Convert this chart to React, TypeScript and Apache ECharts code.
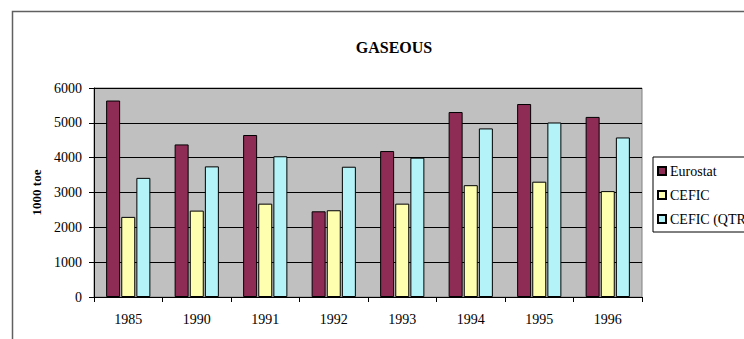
import React, { useEffect, useRef } from "react";
import * as echarts from "echarts";

const categories = ["1985", "1990", "1991", "1992", "1993", "1994", "1995", "1996"];
const eurostat = [5640, 4380, 4650, 2460, 4190, 5310, 5540, 5170];
const cefic = [2300, 2480, 2680, 2490, 2680, 3210, 3310, 3040];
const ceficQtr = [3420, 3750, 4040, 3740, 4000, 4840, 5010, 4580];
const seriesNames = ["Eurostat", "CEFIC", "CEFIC (QTR)"];

const FONT = "'Liberation Serif', 'Times New Roman', serif";

export default function App() {
  const ref = useRef<HTMLDivElement>(null);
  useEffect(() => {
    if (!ref.current) return;
    const chart = echarts.init(ref.current, undefined, { renderer: "svg" });
    const barStyle = (color: string) => ({
      color,
      borderColor: "#000",
      borderWidth: 1,
    });
    chart.setOption({
      animation: false,
      backgroundColor: "#fff",
      textStyle: { fontFamily: FONT },
      title: {
        text: "GASEOUS",
        left: 389,
        textAlign: "center",
        top: 34,
        textStyle: { fontFamily: FONT, fontSize: 16, fontWeight: "bold", color: "#000" },
      },
      graphic: [
        {
          type: "rect",
          shape: { x: 12.5, y: 11.5, width: 800, height: 400 },
          style: { fill: "none", stroke: "#606060", lineWidth: 1.5 },
          silent: true,
          z: -1,
        },
      ],
      legend: {
        orient: "vertical",
        left: 653,
        top: 157,
        width: 120,
        padding: [7, 30, 6, 4],
        itemWidth: 8,
        itemHeight: 8,
        itemGap: 10,
        borderColor: "#000",
        borderWidth: 1,
        backgroundColor: "#fff",
        icon: "rect",
        textStyle: { fontFamily: FONT, fontSize: 14, color: "#000", padding: [0, 0, 0, -1] },
        data: seriesNames,
      },
      grid: {
        left: 94,
        top: 88,
        width: 548,
        height: 209,
        show: true,
        backgroundColor: "#c0c0c0",
        borderColor: "#808080",
        borderWidth: 1,
      },
      xAxis: {
        type: "category",
        data: categories,
        axisLine: { lineStyle: { color: "#000", width: 1 } },
        axisTick: { show: true, length: 5, inside: false, lineStyle: { color: "#000" } },
        axisLabel: { fontFamily: FONT, fontSize: 14, color: "#000", margin: 15 },
      },
      yAxis: {
        type: "value",
        min: 0,
        max: 6000,
        interval: 1000,
        name: "1000 toe",
        nameLocation: "middle",
        nameGap: 50,
        nameRotate: 90,
        nameTextStyle: { fontFamily: FONT, fontSize: 13, fontWeight: "bold", color: "#000" },
        axisLine: { show: true, lineStyle: { color: "#000", width: 1 } },
        axisTick: { show: true, length: 5, lineStyle: { color: "#000" } },
        axisLabel: {
          fontFamily: FONT,
          fontSize: 14,
          color: "#000",
          margin: 12,
          formatter: (v: number) => String(v),
        },
        splitLine: { show: true, lineStyle: { color: "#000", width: 1 } },
      },
      series: [
        {
          name: seriesNames[0],
          type: "bar",
          data: eurostat,
          barWidth: 14,
          barGap: "8%",
          itemStyle: barStyle("#8e2c55"),
        },
        {
          name: seriesNames[1],
          type: "bar",
          data: cefic,
          barWidth: 14,
          barGap: "8%",
          itemStyle: barStyle("#ffffb0"),
        },
        {
          name: seriesNames[2],
          type: "bar",
          data: ceficQtr,
          barWidth: 14,
          barGap: "8%",
          itemStyle: barStyle("#b4f4f8"),
        },
      ],
    });
    return () => chart.dispose();
  }, []);
  return (
    <div
      ref={ref}
      style={{ position: "fixed", left: 0, top: 0, width: 744, height: 339 }}
    />
  );
}
